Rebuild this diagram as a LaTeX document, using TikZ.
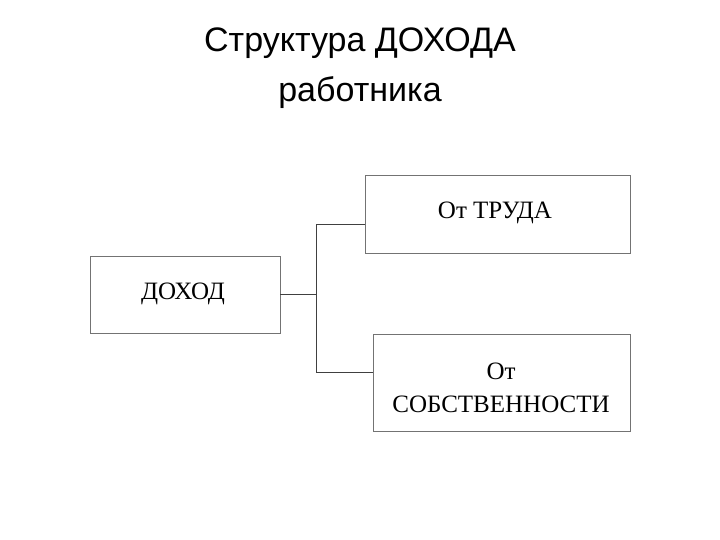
\documentclass[tikz,border=0pt]{standalone}
\usepackage{fontspec}
\setmainfont{Liberation Serif}
\newfontfamily\titlefont{Liberation Sans}
\begin{document}
\begin{tikzpicture}[x=1pt,y=-1pt,
  box/.style={draw=black!55,line width=1pt},
  conn/.style={draw=black!75,line width=1pt},
  lbl/.style={font=\fontsize{25}{29}\selectfont,align=center,inner sep=0}]
\useasboundingbox (0,0) rectangle (720,540);
\node[font=\titlefont\fontsize{34}{50}\selectfont,align=center] (title) at (360,68) {Структура ДОХОДА\\работника};
\draw[box] (90,256) rectangle (280,333);
\node[lbl] (dohod) at (183,294) {ДОХОД};
\draw[box] (365,176) rectangle (630,253);
\node[lbl] (trud) at (495,213) {От ТРУДА};
\draw[box] (373,334) rectangle (630,431);
\node[lbl] (sob) at (501,388) {От\\[4pt]СОБСТВЕННОСТИ};
\coordinate (a) at (280,294);
\coordinate (j) at (316,294);
\coordinate (t) at (316,225);
\coordinate (b) at (316,372);
\coordinate (te) at (365,225);
\coordinate (be) at (373,372);
\draw[conn] (a) -- (j);
\draw[conn] (te) -- (t) -- (b) -- (be);
\end{tikzpicture}
\end{document}
